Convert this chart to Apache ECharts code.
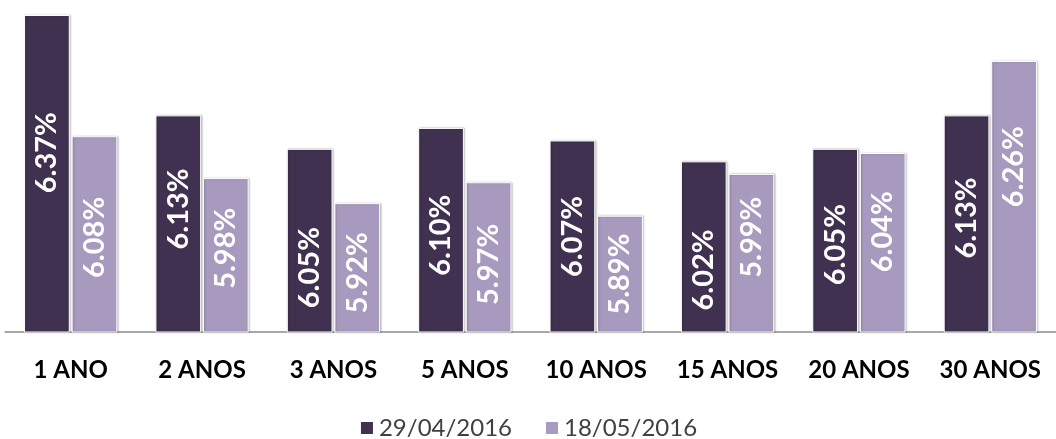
<!DOCTYPE html>
<html><head><meta charset="utf-8">
<script src="https://cdn.jsdelivr.net/npm/echarts@6/dist/echarts.min.js"></script>
<style>html,body{margin:0;padding:0;background:#fff}#c{width:1056px;height:439px}</style>
</head><body><div id="c"></div>
<script>
const categories = ['1 ANO','2 ANOS','3 ANOS','5 ANOS','10 ANOS','15 ANOS','20 ANOS','30 ANOS'];
const seriesNames = ['29/04/2016','18/05/2016'];
const values1 = [6.37,6.13,6.05,6.10,6.07,6.02,6.05,6.13];
const values2 = [6.08,5.98,5.92,5.97,5.89,5.99,6.04,6.26];
const colors = ['#413150','#a89abe'];
// label vertical nudges (px, screen; + = down) to mimic the manually placed labels
const nudge1 = [-21,-15,27,5,0,23,4,-6];
const nudge2 = [3,-7,5,7,0,-16,-11,-30];

const chart = echarts.init(document.getElementById('c'));
const lbl = {
  show: true, position: 'inside', rotate: 90, color: '#fff',
  fontFamily: 'Lato', fontWeight: 'bold', fontSize: 29,
  formatter: p => p.value.toFixed(2) + '%'
};
const item = c => ({color: c, borderColor: '#fff', borderWidth: 1, shadowColor: 'rgba(0,0,0,0.25)', shadowBlur: 2, shadowOffsetX: 1});
const build = (vals, nud) => vals.map((v, i) => ({value: v, label: {offset: [-nud[i], 0]}}));
chart.setOption({
  animation: false,
  grid: {left: 5, right: -6, top: 15, bottom: 107, containLabel: false},
  legend: {
    top: 411, left: 'center', itemWidth: 14, itemHeight: 14, itemGap: 32,
    icon: 'rect',
    textStyle: {fontFamily: 'Lato', fontSize: 24, color: '#404040'},
    data: seriesNames
  },
  xAxis: {
    type: 'category', data: categories,
    axisLine: {lineStyle: {color: '#8c8c8c', width: 1.5}},
    axisTick: {show: false},
    axisLabel: {interval: 0, hideOverlap: false, margin: 26, fontFamily: 'Lato', fontWeight: 'bold', fontSize: 24, color: '#000'}
  },
  yAxis: {
    type: 'value', min: 5.612, max: 6.37,
    show: false, splitLine: {show: false}
  },
  series: [
    {name: seriesNames[0], type: 'bar', data: build(values1, nudge1), barGap: '4%', barCategoryGap: '29%',
     itemStyle: item(colors[0]), label: lbl},
    {name: seriesNames[1], type: 'bar', data: build(values2, nudge2), barGap: '4%', barCategoryGap: '29%',
     itemStyle: item(colors[1]), label: lbl}
  ]
});
</script></body></html>
